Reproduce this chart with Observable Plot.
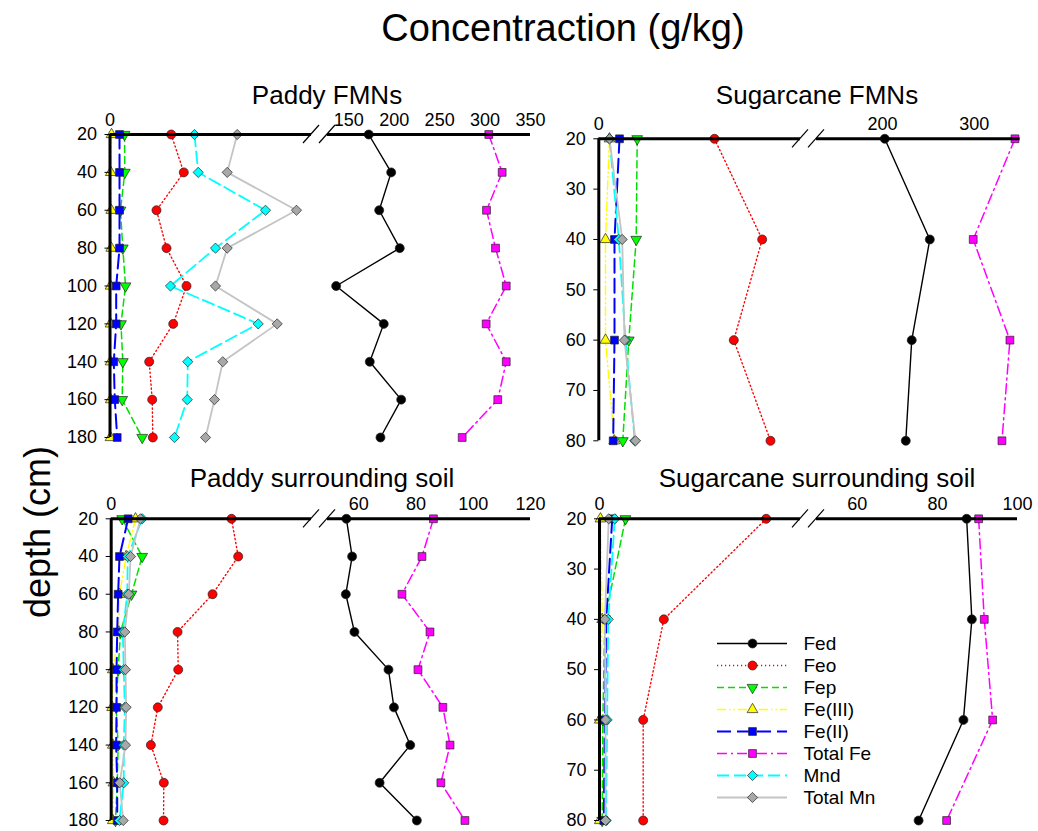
<!DOCTYPE html>
<html><head><meta charset="utf-8">
<script src="https://cdn.jsdelivr.net/npm/d3@7"></script>
<script src="https://cdn.jsdelivr.net/npm/@observablehq/plot@0.6"></script>
<style>
body{margin:0;background:#fff;font-family:"Liberation Sans",Arial,sans-serif;color:#000;}
#root{position:relative;width:1038px;height:831px;overflow:hidden;background:#fff;}
#root svg{position:absolute;}
.ttl{position:absolute;font-size:26px;line-height:30px;transform:translateX(-50%);white-space:nowrap;}
#main{position:absolute;left:563px;top:6px;font-size:38px;line-height:44px;transform:translateX(-50%);white-space:nowrap;}
#ylab{position:absolute;left:38px;top:532px;font-size:36px;line-height:40px;transform:translate(-50%,-50%) rotate(-90deg);white-space:nowrap;}
</style></head><body><div id="root">
<div id="main">Concentraction (g/kg)</div>
<div id="ylab">depth (cm)</div>
<div class="ttl" style="left:327px;top:80px">Paddy FMNs</div>
<div class="ttl" style="left:817px;top:80px">Sugarcane FMNs</div>
<div class="ttl" style="left:322px;top:463px">Paddy surrounding soil</div>
<div class="ttl" style="left:817px;top:463px">Sugarcane surrounding soil</div>
</div>
<script>
// ---------- data ----------
const seriesNames = ["Fed","Feo","Fep","Fe(III)","Fe(II)","Total Fe","Mnd","Total Mn"];
const depthPaddy = [20,40,60,80,100,120,140,160,180];
const depthSugar = [20,40,60,80];
const yTicksSugar = [20,30,40,50,60,70,80];

// Paddy FMNs
const PF_Fed     = [172.0,196.7,183.5,206.1,136.1,188.5,173.1,207.7,184.9];
const PF_Feo     = [12.15,14.65,9.23,11.22,15.19,12.55,7.78,8.38,8.50];
const PF_Fep     = [2.88,2.94,2.08,2.54,3.08,2.18,2.54,2.42,6.39];
const PF_FeIII   = [0.30,0.15,0.25,0.25,0.10,0.10,0.10,0.15,0.10];
const PF_FeII    = [1.89,1.89,1.89,1.89,1.23,1.23,0.75,0.95,1.43];
const PF_TotalFe = [304.1,318.8,301.6,311.5,323.3,301.2,323.3,314.0,274.8];
const PF_Mnd     = [16.77,17.51,30.87,20.94,12.01,29.42,15.44,15.33,12.80];
const PF_TotalMn = [25.25,23.27,37.02,23.27,20.94,33.19,22.39,20.74,18.96];

// Sugarcane FMNs
const SF_Fed     = [202.5,251.6,231.9,225.4];
const SF_Feo     = [34.41,48.60,40.15,51.07];
const SF_Fep     = [11.42,11.12,8.92,7.14];
const SF_FeIII   = [3.18,1.99,1.99,4.60];
const SF_FeII    = [6.16,4.67,4.67,4.28];
const SF_TotalFe = [344.4,298.9,338.9,330.2];
const SF_Mnd     = [3.18,5.95,7.94,10.71];
const SF_TotalMn = [3.18,6.96,7.64,10.92];

// Paddy surrounding soil
const PS_Fed     = [55.7,57.7,55.5,58.5,70.4,72.3,78.0,67.3,80.3];
const PS_Feo     = [9.01,9.51,7.59,4.97,5.02,3.49,2.97,3.94,3.92];
const PS_Fep     = [0.82,2.32,1.52,0.70,0.52,0.37,0.52,0.45,0.32];
const PS_FeIII   = [1.82,1.12,0.62,0.57,0.12,0.07,0.12,0.17,0.12];
const PS_FeII    = [1.27,0.62,0.52,0.45,0.40,0.40,0.37,0.45,0.45];
const PS_TotalFe = [86.1,82.1,75.1,84.9,80.7,89.4,91.9,88.7,97.1];
const PS_Mnd     = [2.32,1.24,1.20,0.87,0.94,1.02,0.94,0.94,0.62];
const PS_TotalMn = [2.19,1.45,1.32,1.02,1.07,1.12,1.07,0.64,0.90];

// Sugarcane surrounding soil
const SS_Fed     = [87.3,88.6,86.5,75.3];
const SS_Feo     = [12.44,4.80,3.26,3.26];
const SS_Fep     = [1.94,0.40,0.25,0.20];
const SS_FeIII   = [0.07,0.20,0.02,0.02];
const SS_FeII    = [0.95,0.50,0.40,0.32];
const SS_TotalFe = [90.3,91.7,93.8,82.3];
const SS_Mnd     = [1.14,0.65,0.57,0.50];
const SS_TotalMn = [0.69,0.40,0.45,0.45];

// broken x-axis: [0, left max, right min, right max] and tick labels
const PF_xBreaks = [0,40,126.6,350];   const PF_xTicks = [0,150,200,250,300,350];
const SF_xBreaks = [0,60,128.1,350];   const SF_xTicks = [0,200,300];
const PS_xBreaks = [0,15,49.1,120];    const PS_xTicks = [0,60,80,100,120];
const SS_xBreaks = [0,15,49.8,100];    const SS_xTicks = [0,60,80,100];

// ---------- styles ----------
const styles = {
  "Fed":      {stroke:"#000000", fill:"#000000", width:1.4, dash:null,           symbol:"circle",   r:4.5, rotate:0},
  "Feo":      {stroke:"#ff0000", fill:"#ff0000", width:1.4, dash:"1.2,2.8",      symbol:"circle",   r:4.5, rotate:0},
  "Fep":      {stroke:"#00e000", fill:"#00ff00", width:1.5, dash:"7,4",          symbol:"triangle", r:4.0, rotate:180},
  "Fe(III)":  {stroke:"#ffff00", fill:"#ffff00", width:1.4, dash:"9,3,1.5,3,1.5,3", symbol:"triangle", r:4.0, rotate:0},
  "Fe(II)":   {stroke:"#0000ff", fill:"#0000ff", width:2,   dash:"14,6",         symbol:"square",   r:4.4, rotate:0},
  "Total Fe": {stroke:"#ff00ff", fill:"#ff00ff", width:1.5, dash:"10,4,2,4",     symbol:"square",   r:4.4, rotate:0},
  "Mnd":      {stroke:"#00ffff", fill:"#00ffff", width:1.8, dash:"12,5",         symbol:"diamond2", r:4.6, rotate:0},
  "Total Mn": {stroke:"#c4c4c4", fill:"#a8a8a8", width:1.8, dash:null,           symbol:"diamond2", r:4.6, rotate:0}
};
const FONT = "'Liberation Sans', Arial, sans-serif";
const root = document.getElementById("root");

function seriesMarks(name, depths, values) {
  const s = styles[name];
  const data = depths.map((d, j) => ({depth: d, value: values[j]}));
  const lo = {x: "value", y: "depth", stroke: s.stroke, strokeWidth: s.width, curve: "linear"};
  if (s.dash) lo.strokeDasharray = s.dash;
  return [
    Plot.line(data, lo),
    Plot.dot(data, {x: "value", y: "depth", symbol: s.symbol, r: s.r, rotate: s.rotate,
      fill: s.fill, stroke: "#222", strokeWidth: 0.7})
  ];
}

function makePanel(p) {
  const L = p.box.left, T = p.box.top, W = p.box.w, H = p.box.h;
  const xr = p.xRange.map(v => v - L);
  const yr = [p.yRange[0] - T, p.yRange[1] - T];
  const yDom = [p.depths[0], p.depths[p.depths.length - 1]];
  const xb = p.xBreaks;
  const marks = [];
  p.values.forEach((vals, i) => marks.push(...seriesMarks(seriesNames[i], p.depths, vals)));
  marks.push(Plot.ruleY([yDom[0]], {x1: xb[0], x2: xb[1], stroke: "#000", strokeWidth: 3}));
  marks.push(Plot.ruleY([yDom[0]], {x1: xb[2], x2: xb[3], stroke: "#000", strokeWidth: 3}));
  marks.push(Plot.ruleX([0], {y1: yDom[0], y2: yDom[1], stroke: "#000", strokeWidth: 3}));
  marks.push((index, scales) => {
    const g = d3.create("svg:g");
    const y0 = scales.y(yDom[0]);
    for (const v of [xb[1], xb[2]]) {
      const c = scales.x(v);
      g.append("line").attr("x1", c - 8).attr("y1", y0 + 9).attr("x2", c + 8).attr("y2", y0 - 9)
        .attr("stroke", "#000").attr("stroke-width", 1.2);
    }
    return g.node();
  });
  marks.push(Plot.axisX({anchor: "top", ticks: p.xTicks, tickSize: 0, tickPadding: 9, fontSize: 18, tickFormat: d => String(d), label: null}));
  marks.push(Plot.axisY({anchor: "left", ticks: p.yTicks, tickSize: 5, tickPadding: 8, fontSize: 18, tickFormat: d => String(d), label: null, strokeWidth: 1}));
  const chart = Plot.plot({
    width: W, height: H,
    marginLeft: xr[0], marginRight: W - xr[3], marginTop: yr[0], marginBottom: H - yr[1],
    x: {type: "linear", domain: xb, range: xr},
    y: {type: "linear", domain: yDom, range: yr},
    style: {fontFamily: FONT, fontSize: "18px", background: "transparent", color: "#000", overflow: "visible"},
    marks
  });
  chart.style.left = L + "px";
  chart.style.top = T + "px";
  root.appendChild(chart);
}

makePanel({box: {left: 40, top: 100, w: 500, h: 350}, depths: depthPaddy, yTicks: depthPaddy,
  xBreaks: PF_xBreaks, xTicks: PF_xTicks, xRange: [109.5, 311, 327, 530], yRange: [134, 437],
  values: [PF_Fed, PF_Feo, PF_Fep, PF_FeIII, PF_FeII, PF_TotalFe, PF_Mnd, PF_TotalMn]});
makePanel({box: {left: 545, top: 100, w: 490, h: 350}, depths: depthSugar, yTicks: yTicksSugar,
  xBreaks: SF_xBreaks, xTicks: SF_xTicks, xRange: [598.3, 800, 816, 1019.6], yRange: [138.3, 440.3],
  values: [SF_Fed, SF_Feo, SF_Fep, SF_FeIII, SF_FeII, SF_TotalFe, SF_Mnd, SF_TotalMn]});
makePanel({box: {left: 40, top: 490, w: 500, h: 338}, depths: depthPaddy, yTicks: depthPaddy,
  xBreaks: PS_xBreaks, xTicks: PS_xTicks, xRange: [110.7, 311, 327, 530], yRange: [518.3, 820],
  values: [PS_Fed, PS_Feo, PS_Fep, PS_FeIII, PS_FeII, PS_TotalFe, PS_Mnd, PS_TotalMn]});
makePanel({box: {left: 545, top: 490, w: 490, h: 338}, depths: depthSugar, yTicks: yTicksSugar,
  xBreaks: SS_xBreaks, xTicks: SS_xTicks, xRange: [599, 800, 816, 1017], yRange: [518.3, 820],
  values: [SS_Fed, SS_Feo, SS_Fep, SS_FeIII, SS_FeII, SS_TotalFe, SS_Mnd, SS_TotalMn]});

// ---------- legend ----------
(function () {
  const L = 700, T = 625, W = 240, H = 190;
  const marks = [];
  seriesNames.forEach(name => {
    const s = styles[name];
    const o = {y: d => d, x1: 0, x2: 1, stroke: s.stroke, strokeWidth: s.width};
    if (s.dash) o.strokeDasharray = s.dash;
    marks.push(Plot.ruleY([name], o));
    marks.push(Plot.dot([name], {y: d => d, x: 0.5, symbol: s.symbol, r: s.r, rotate: s.rotate, fill: s.fill, stroke: "#222", strokeWidth: 0.7}));
  });
  marks.push(Plot.text(seriesNames, {y: d => d, x: 1, dx: 16, text: d => d, textAnchor: "start", fontSize: 19, fill: "#000"}));
  const lg = Plot.plot({
    width: W, height: H, margin: 0,
    x: {type: "linear", domain: [0, 1], range: [717 - L, 787 - L], axis: null},
    y: {type: "point", domain: seriesNames, range: [640 - T, 799.3 - T], padding: 0, axis: null},
    style: {fontFamily: FONT, fontSize: "19px", background: "transparent", overflow: "visible"},
    marks
  });
  lg.style.left = L + "px";
  lg.style.top = T + "px";
  root.appendChild(lg);
})();
</script>
</body></html>
